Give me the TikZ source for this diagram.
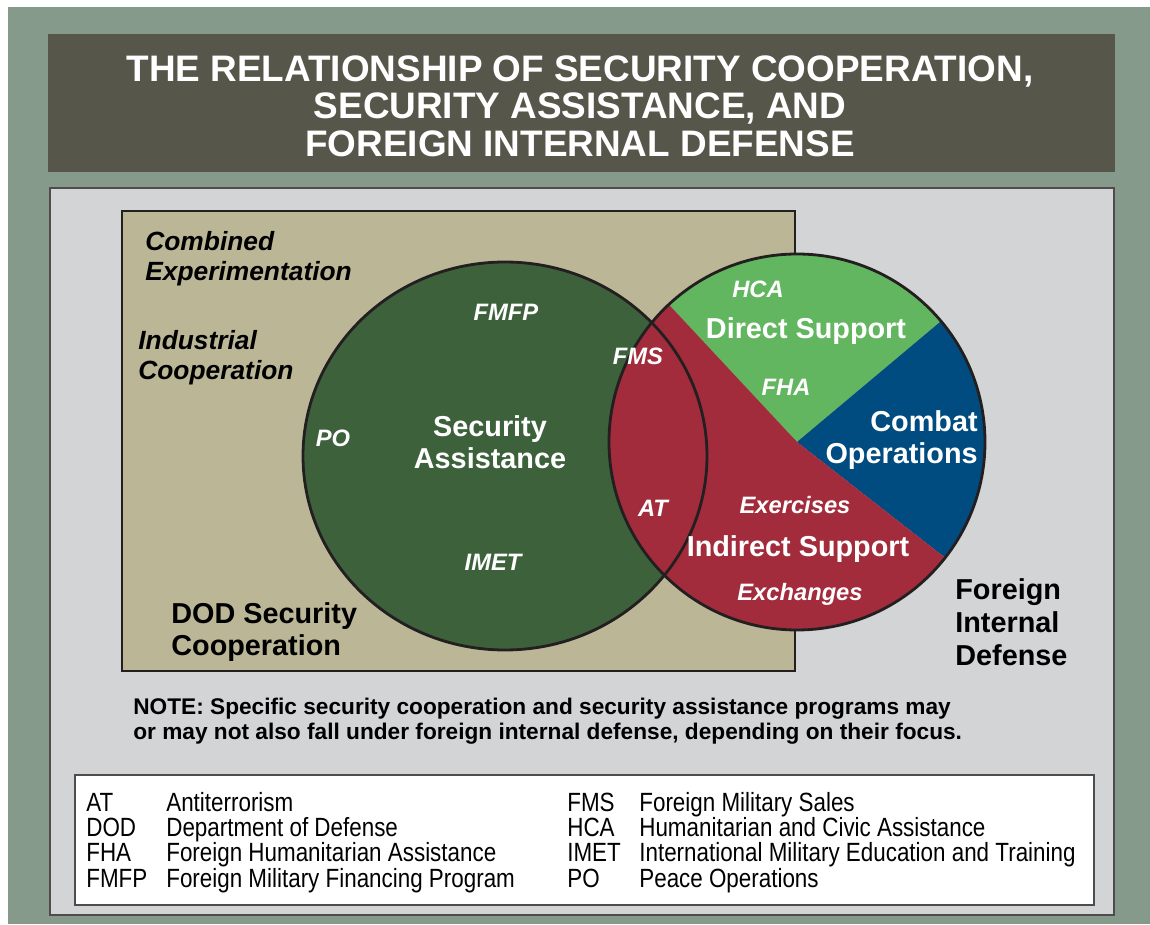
\documentclass[tikz,border=0pt]{standalone}
\usepackage{fontspec}
\setmainfont{Liberation Sans}
\newfontfamily\narrowfont[FakeStretch=0.85]{Liberation Sans}
\usetikzlibrary{positioning}
\definecolor{frameGray}{RGB}{134,154,140}
\definecolor{titleGray}{RGB}{87,86,74}
\definecolor{panelGray}{RGB}{211,212,214}
\definecolor{scTan}{RGB}{187,183,150}
\definecolor{saGreen}{RGB}{60,97,59}
\definecolor{dsGreen}{RGB}{98,182,96}
\definecolor{coBlue}{RGB}{0,75,128}
\definecolor{isRed}{RGB}{163,44,60}
\definecolor{lineDark}{RGB}{35,31,32}

\begin{document}
\begin{tikzpicture}[
        x=0.02cm, y=0.02cm,
        every node/.style={inner sep=0pt},
        titletext/.style={text=white, font=\bfseries\fontsize{21}{21.3}\selectfont, align=center},
        outer/.style={anchor=west, align=left, font=\bfseries\itshape\fontsize{15}{17}\selectfont},
        bigtext/.style={anchor=west, align=left, font=\bfseries\fontsize{16.4}{18.7}\selectfont},
        area/.style={text=white, align=center, font=\bfseries\fontsize{16.4}{18.4}\selectfont},
        prog/.style={text=white, font=\bfseries\itshape\fontsize{13.5}{16}\selectfont},
        abbr/.style={anchor=base west, text height=10pt, text depth=2pt, font=\narrowfont\fontsize{15}{15}\selectfont}
    ]
        % Frame and panels
        \useasboundingbox (0,0) rectangle (1150,924);
        \fill[white] (0,0) rectangle (1150,924);
        \fill[frameGray] (8,0) rectangle (1150,917);
        \fill[titleGray] (48,752) rectangle (1115,890);
        \draw[lineDark!80, fill=panelGray, line width=0.6pt] (50,9) rectangle (1114,736);
        \draw[lineDark, fill=scTan, line width=0.6pt] (122,253) rectangle (795,713);
        
        % Venn circles
        \fill[saGreen] (505,468) ellipse [x radius=202, y radius=194];
        \fill[dsGreen] (797,482) -- ++(40:188) arc[start angle=40, end angle=133, radius=188] -- cycle;
        \fill[coBlue] (797,482) -- ++(-38:188) arc[start angle=-38, end angle=40, radius=188] -- cycle;
        \fill[isRed] (797,482) -- ++(133:188) arc[start angle=133, end angle=322, radius=188] -- cycle;
        \draw[lineDark, line width=1.6pt] (505,468) ellipse [x radius=202, y radius=194];
        \draw[lineDark, line width=1.6pt] (797,482) circle [radius=188];
        
        % Title
        \node[titletext] (title) at (580,818) {THE RELATIONSHIP OF SECURITY COOPERATION,\\SECURITY ASSISTANCE, AND\\FOREIGN INTERNAL DEFENSE};
        
        % Outside labels
        \node[outer] (comb) at (145,665) {Combined\\Experimentation};
        \node[outer] (indc) at (138,566) {Industrial\\Cooperation};
        \node[bigtext] (dodsc) at (171,292) {DOD Security\\Cooperation};
        \node[bigtext] (fid) at (955,302) {Foreign\\Internal\\Defense};
        
        % Security assistance
        \node[area] (sa) at (490,482) {Security\\Assistance};
        \node[prog] (fmfp) at (506,612) {FMFP};
        \node[prog] (po) at (333,486) {PO};
        \node[prog] (imet) at (493,362) {IMET};
        \node[prog] (fms) at (638,568) {FMS};
        \node[prog] (at) at (653,416) {AT};
        
        % Foreign internal defense
        \node[area] (ds) at (806,593) {Direct Support};
        \node[prog] (hca) at (758,635) {HCA};
        \node[prog] (fha) at (786,537) {FHA};
        \node[area, anchor=east, align=right] (co) at (978,484) {Combat\\Operations};
        \node[area] (is) at (798,375) {Indirect Support};
        \node[prog] (exer) at (795,419) {Exercises};
        \node[prog] (exch) at (800,330) {Exchanges};
        
        % Note
        \node[anchor=west, align=left, font=\bfseries\fontsize{12.9}{14.2}\selectfont] (note) at (133,203)
            {NOTE: Specific security cooperation and security assistance programs may\\or may not also fall under foreign internal defense, depending on their focus.};
        
        % Legend
        \draw[lineDark!80, fill=white, line width=0.6pt] (75,19) rectangle (1094,149);
        \node[abbr] (k1) at (86,113) {AT};
        \node[abbr] (v1) at (166,113) {Antiterrorism};
        \node[abbr] (k2) at (86,88) {DOD};
        \node[abbr] (v2) at (166,88) {Department of Defense};
        \node[abbr] (k3) at (86,63) {FHA};
        \node[abbr] (v3) at (166,63) {Foreign Humanitarian Assistance};
        \node[abbr] (k4) at (86,37) {FMFP};
        \node[abbr] (v4) at (166,37) {Foreign Military Financing Program};
        \node[abbr] (k5) at (567,113) {FMS};
        \node[abbr] (v5) at (639,113) {Foreign Military Sales};
        \node[abbr] (k6) at (567,88) {HCA};
        \node[abbr] (v6) at (639,88) {Humanitarian and Civic Assistance};
        \node[abbr] (k7) at (567,63) {IMET};
        \node[abbr] (v7) at (639,63) {International Military Education and Training};
        \node[abbr] (k8) at (567,37) {PO};
        \node[abbr] (v8) at (639,37) {Peace Operations};
    \end{tikzpicture}
\end{document}
